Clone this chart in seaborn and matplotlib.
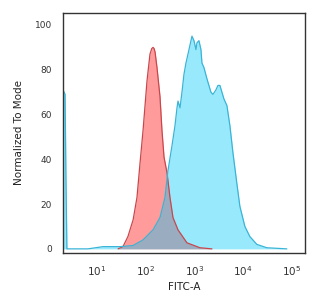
import numpy as np
import matplotlib
matplotlib.use("Agg")
import matplotlib.pyplot as plt
import seaborn as sns
import pandas as pd

sns.set_style("white")
plt.rcParams['font.family'] = ['DejaVu Sans']

# isotype control (red) - FITC-A intensity vs % of mode
red_x = [27, 34, 43, 55, 66, 76, 88, 106, 122, 133, 141, 148, 155, 170, 196, 215,
         237, 273, 314, 362, 459, 701, 1297, 2286]
red_y = [0, 1, 5.5, 13, 23, 38, 53, 75, 87, 89.5, 90, 89.5, 88, 81, 68, 53,
         41, 34, 23, 14, 8.5, 2.7, 0.5, 0]

# stained sample (cyan)
cyan_x = [2.0, 2.2, 2.3, 2.4, 6.5, 13.3, 29.6, 54.8, 87.8, 141, 196, 248,
          286, 345, 398, 438, 459, 505, 554, 609, 669, 736, 809, 848, 889,
          977, 1074, 1125, 1236, 1359, 1425, 1566, 1803, 1982, 2178, 2394,
          2761, 3034, 3334, 3664, 4027, 4642, 5348, 6166, 7447, 8570,
          10860, 13740, 19140, 30690, 78900]
cyan_y = [71, 69, 30, 0, 0, 1, 1, 1.5, 4, 8.5, 14, 23,
          35, 46, 55, 63, 66, 63, 70, 78, 83, 87, 91, 93, 95,
          93, 89, 92, 93, 89, 83, 81, 76, 73, 70, 69,
          71, 73, 73, 70, 67, 64, 55, 43, 29, 19,
          10, 5.5, 2, 0.5, 0]

x_ticks = [10, 100, 1000, 10000, 100000]
x_ticklabels = ['$10^{1}$', '$10^{2}$', '$10^{3}$', '$10^{4}$', '$10^{5}$']
y_ticks = [0, 20, 40, 60, 80, 100]

red_df = pd.DataFrame({'FITC-A': red_x, 'Mode': red_y})
cyan_df = pd.DataFrame({'FITC-A': cyan_x, 'Mode': cyan_y})

fig = plt.figure(figsize=(3.25, 3.0), dpi=100)
ax = fig.add_axes([0.194, 0.157, 0.744, 0.8])

ax.fill_between(red_df['FITC-A'], red_df['Mode'], color='#ff3939', alpha=0.5, lw=0)
sns.lineplot(data=red_df, x='FITC-A', y='Mode', ax=ax, color='#c8474c', lw=0.9, sort=False)
ax.fill_between(cyan_df['FITC-A'], cyan_df['Mode'], color='#00c8f8', alpha=0.4, lw=0)
sns.lineplot(data=cyan_df, x='FITC-A', y='Mode', ax=ax, color='#3ab4d6', lw=0.9, sort=False)

ax.set_xscale('log')
ax.set_xlim(2.0, 185000)
ax.set_ylim(-1.8, 105.4)
ax.set_xticks(x_ticks)
ax.set_xticklabels(x_ticklabels)
ax.set_xticks([], minor=True)
ax.set_yticks(y_ticks)
ax.tick_params(axis='both', length=0, labelsize=6.5, colors='#333333')
ax.tick_params(axis='x', pad=8, labelsize=7.5)
ax.tick_params(axis='y', pad=8)
ax.set_xlabel('FITC-A', fontsize=7.5, color='#222222', labelpad=3)
ax.set_ylabel('Normalized To Mode', fontsize=7.5, color='#222222', labelpad=8)
for s in ax.spines.values():
    s.set_color('#333333')
    s.set_linewidth(1.0)

fig.savefig('out.png', dpi=100)
